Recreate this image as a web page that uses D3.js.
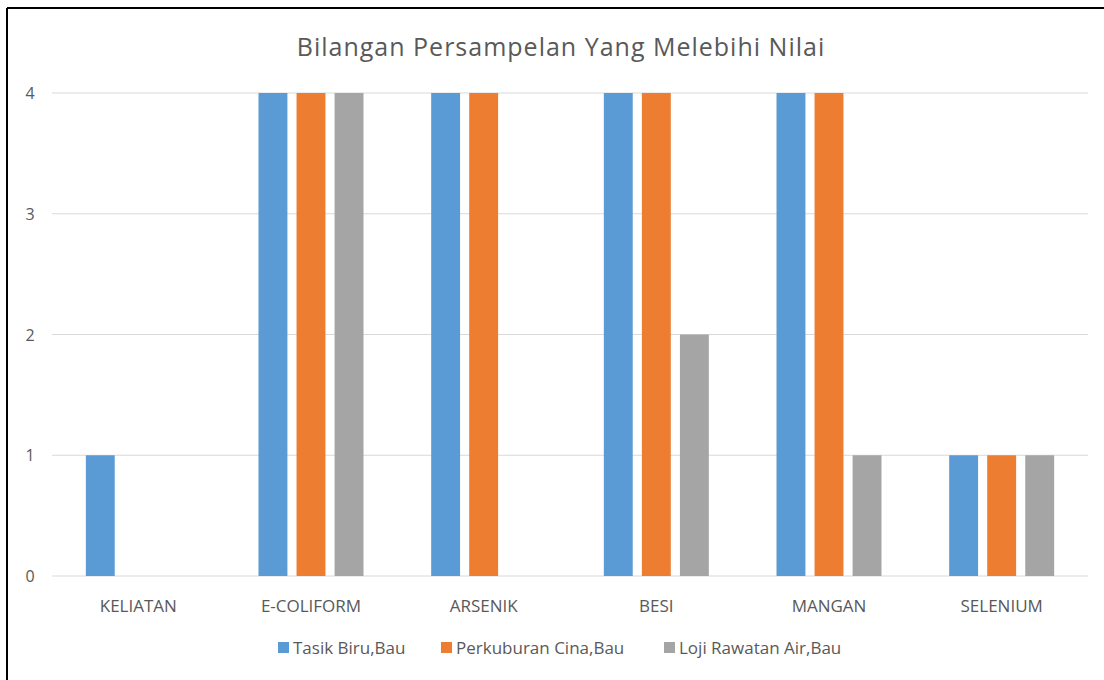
<!DOCTYPE html>
<html>
<head>
<meta charset="utf-8">
<script src="https://cdn.jsdelivr.net/npm/d3@7"></script>
<style>
  body { margin: 0; background: #fff; }
  svg { display: block; font-family: "Open Sans", "Noto Sans", sans-serif; }
</style>
</head>
<body>
<script>
const WIDTH = 1104;
const HEIGHT = 680;

const categories = ["KELIATAN", "E-COLIFORM", "ARSENIK", "BESI", "MANGAN", "SELENIUM"];
const seriesNames = ["Tasik Biru,Bau", "Perkuburan Cina,Bau", "Loji Rawatan Air,Bau"];
const tasikBiru = [1, 4, 4, 4, 4, 1];
const perkuburanCina = [0, 4, 4, 4, 4, 1];
const lojiRawatan = [0, 4, 0, 2, 1, 1];
const yTicks = [0, 1, 2, 3, 4];
const colors = ["#5b9bd5", "#ed7d31", "#a5a5a5"];

const seriesValues = [tasikBiru, perkuburanCina, lojiRawatan];

const plot = {left: 52, right: 1088, top: 93, bottom: 576};

const svg = d3.select("body").append("svg")
    .attr("width", WIDTH)
    .attr("height", HEIGHT);

// frame: only top and left edges show
svg.append("line").attr("x1", 7).attr("x2", WIDTH).attr("y1", 8).attr("y2", 8)
    .attr("stroke", "#000").attr("stroke-width", 2);
svg.append("line").attr("x1", 7).attr("x2", 7).attr("y1", 8).attr("y2", HEIGHT)
    .attr("stroke", "#000").attr("stroke-width", 2);

svg.append("text")
    .attr("x", 561).attr("y", 56)
    .attr("text-anchor", "middle")
    .attr("font-size", 25)
    .attr("letter-spacing", 1)
    .attr("fill", "#595959")
    .text("Bilangan Persampelan Yang Melebihi Nilai");

const x0 = d3.scaleBand()
    .domain(categories)
    .range([plot.left, plot.right])
    .padding(0);

const groupWidth = 105;
const x1 = d3.scaleBand()
    .domain(seriesNames)
    .range([0, groupWidth])
    .paddingInner(0.24)
    .paddingOuter(0);

const y = d3.scaleLinear()
    .domain([0, 4])
    .range([plot.bottom, plot.top]);

// gridlines
svg.append("g")
  .selectAll("line")
    .data(yTicks).enter()
  .append("line")
    .attr("x1", plot.left).attr("x2", plot.right)
    .attr("y1", d => y(d)).attr("y2", d => y(d))
    .attr("stroke", "#d9d9d9")
    .attr("stroke-width", 1);

// y tick labels
svg.append("g")
  .selectAll("text")
    .data(yTicks).enter()
  .append("text")
    .attr("x", 30)
    .attr("y", d => y(d) + 6)
    .attr("text-anchor", "middle")
    .attr("font-size", 16)
    .attr("fill", "#595959")
    .text(d => d);

// bars
const groups = svg.append("g")
  .selectAll("g")
    .data(categories).enter()
  .append("g")
    .attr("transform", c => `translate(${x0(c) + x0.bandwidth() / 2 - groupWidth / 2},0)`);

groups.selectAll("rect")
    .data((c, i) => seriesNames.map((s, j) => ({s, j, v: seriesValues[j][i]})))
    .enter()
  .append("rect")
    .attr("x", d => x1(d.s))
    .attr("width", x1.bandwidth())
    .attr("y", d => y(d.v))
    .attr("height", d => y(0) - y(d.v))
    .attr("fill", d => colors[d.j]);

// x category labels
svg.append("g")
  .selectAll("text")
    .data(categories).enter()
  .append("text")
    .attr("x", c => x0(c) + x0.bandwidth() / 2)
    .attr("y", 612)
    .attr("text-anchor", "middle")
    .attr("font-size", 17)
    .attr("fill", "#595959")
    .text(c => c);

// legend
const legendX = [278, 441, 664];
const legend = svg.append("g")
  .selectAll("g")
    .data(seriesNames).enter()
  .append("g")
    .attr("transform", (s, i) => `translate(${legendX[i]},648)`);

legend.append("rect")
    .attr("x", 0).attr("y", -6)
    .attr("width", 11).attr("height", 11)
    .attr("fill", (s, i) => colors[i]);

legend.append("text")
    .attr("x", 15).attr("y", 6)
    .attr("font-size", 17)
    .attr("fill", "#595959")
    .text(s => s);
</script>
</body>
</html>
